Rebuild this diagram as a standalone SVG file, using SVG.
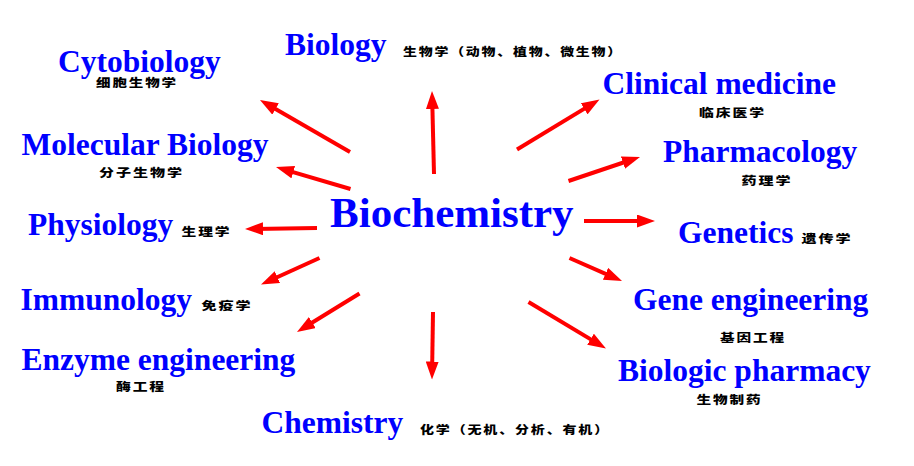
<svg xmlns="http://www.w3.org/2000/svg" width="914" height="466" viewBox="0 0 914 466">
<style>
.en{font-family:"Liberation Serif","Times New Roman",serif;font-weight:bold;font-size:31.5px;fill:#0000FF}
.big{font-size:43px}
.zh{font-family:"Noto Sans CJK SC",sans-serif;font-weight:900;font-size:11.5px;letter-spacing:1.5px;fill:#000}
.arr{stroke:#FF0000;stroke-width:4;fill:none;marker-end:url(#ah)}
</style>
<defs>
<marker id="ah" viewBox="0 0 18 13" markerUnits="userSpaceOnUse" markerWidth="18" markerHeight="13" refX="10" refY="6.5" orient="auto">
<path d="M0,0 L18,6.5 L0,13 z" fill="#FF0000"/>
</marker>
</defs>
<rect width="914" height="466" fill="#fff"/>
<g id="connectors">
<line class="arr" x1="434" y1="174" x2="432.2" y2="99"/>
<line class="arr" x1="350" y1="152" x2="266.9" y2="104"/>
<line class="arr" x1="350.5" y1="189" x2="283.7" y2="169.3"/>
<line class="arr" x1="317" y1="228" x2="253" y2="228.9"/>
<line class="arr" x1="319.5" y1="258" x2="268.3" y2="281.2"/>
<line class="arr" x1="359.5" y1="293.5" x2="303.8" y2="327.8"/>
<line class="arr" x1="433" y1="312" x2="432.1" y2="371.5"/>
<line class="arr" x1="528.5" y1="302" x2="599.1" y2="344.4"/>
<line class="arr" x1="569.5" y1="258" x2="614.7" y2="277.8"/>
<line class="arr" x1="584" y1="221" x2="647" y2="221"/>
<line class="arr" x1="568.5" y1="181" x2="632.4" y2="159.5"/>
<line class="arr" x1="517" y1="149.5" x2="592.7" y2="103.6"/>
</g>
<g id="biochemistry"><text class="en big" x="330" y="227">Biochemistry</text></g>
<g id="biology">
<text class="en" x="285" y="55">Biology</text>
<text class="zh" x="403" y="56" textLength="220" lengthAdjust="spacingAndGlyphs">生物学（动物、植物、微生物）</text>
</g>
<g id="cytobiology">
<text class="en" x="58" y="72">Cytobiology</text>
<text class="zh" x="96" y="87" textLength="82" lengthAdjust="spacingAndGlyphs">细胞生物学</text>
</g>
<g id="molecular">
<text class="en" x="21.5" y="155">Molecular Biology</text>
<text class="zh" x="99" y="177" textLength="85" lengthAdjust="spacingAndGlyphs">分子生物学</text>
</g>
<g id="physiology">
<text class="en" x="28" y="235">Physiology</text>
<text class="zh" x="181.5" y="236" textLength="50" lengthAdjust="spacingAndGlyphs">生理学</text>
</g>
<g id="immunology">
<text class="en" x="20.5" y="310">Immunology</text>
<text class="zh" x="201.5" y="309.5" textLength="51" lengthAdjust="spacingAndGlyphs">免疫学</text>
</g>
<g id="enzyme">
<text class="en" x="21.5" y="370">Enzyme engineering</text>
<text class="zh" x="116" y="391" textLength="50" lengthAdjust="spacingAndGlyphs">酶工程</text>
</g>
<g id="chemistry">
<text class="en" x="261.5" y="433">Chemistry</text>
<text class="zh" x="420" y="433.5" textLength="190" lengthAdjust="spacingAndGlyphs">化学（无机、分析、有机）</text>
</g>
<g id="clinical">
<text class="en" x="602.5" y="94">Clinical medicine</text>
<text class="zh" x="699" y="117" textLength="67" lengthAdjust="spacingAndGlyphs">临床医学</text>
</g>
<g id="pharmacology">
<text class="en" x="663" y="161.5">Pharmacology</text>
<text class="zh" x="741.5" y="184.5" textLength="51" lengthAdjust="spacingAndGlyphs">药理学</text>
</g>
<g id="genetics">
<text class="en" x="678" y="243">Genetics</text>
<text class="zh" x="801.5" y="243" textLength="51" lengthAdjust="spacingAndGlyphs">遗传学</text>
</g>
<g id="gene-engineering">
<text class="en" x="633" y="310">Gene engineering</text>
<text class="zh" x="720" y="341.5" textLength="66" lengthAdjust="spacingAndGlyphs">基因工程</text>
</g>
<g id="biologic-pharmacy">
<text class="en" x="618" y="380.5">Biologic pharmacy</text>
<text class="zh" x="696.5" y="403.5" textLength="66" lengthAdjust="spacingAndGlyphs">生物制药</text>
</g>
</svg>
